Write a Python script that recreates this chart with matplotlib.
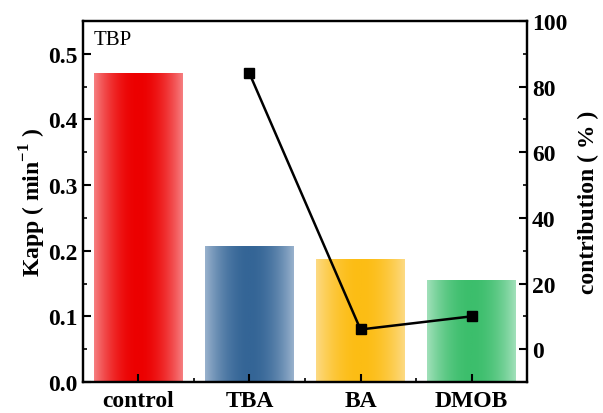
import matplotlib.pyplot as plt
import numpy as np
from matplotlib.colors import LinearSegmentedColormap
from matplotlib.ticker import MultipleLocator

# rate constants and contribution per scavenger
categories = ['control', 'TBA', 'BA', 'DMOB']
kapp = [0.47, 0.207, 0.188, 0.156]
contrib_cats = ['TBA', 'BA', 'DMOB']
contribution = [84, 6, 10]

# bar shading: (edge colour, centre colour)
shades = [('#f67f81', '#ec0000'),
          ('#99b2cd', '#346596'),
          ('#fdda84', '#fcbd14'),
          ('#a1e0ba', '#3cbe6c')]

plt.rcParams['font.family'] = ['Liberation Serif', 'DejaVu Serif']
plt.rcParams['mathtext.fontset'] = 'custom'
plt.rcParams['mathtext.rm'] = 'Liberation Serif:bold'
plt.rcParams['mathtext.bf'] = 'Liberation Serif:bold'

fig = plt.figure(figsize=(6.03, 4.14), dpi=100)
ax = fig.add_axes([0.1376, 0.0749, 0.7364, 0.872])

x = np.arange(len(categories))
bars = ax.bar(x, kapp, width=0.8, color='none', edgecolor='none')

# horizontal gradient fill: light at the edges, dark in the middle
grad = 1 - np.abs(np.linspace(-1, 1, 256)) ** 2
grad = grad.reshape(1, -1)
for b, (edge, centre) in zip(bars, shades):
    cmap = LinearSegmentedColormap.from_list('g', [edge, centre])
    x0, w, h = b.get_x(), b.get_width(), b.get_height()
    im = ax.imshow(grad, cmap=cmap, aspect='auto', extent=[x0, x0 + w, 0, h],
                   vmin=0, vmax=1, zorder=1)
    im.set_clip_path(b)

ax.set_xlim(-0.5, 3.5)
ax.set_ylim(0, 0.55)
ax.set_xticks(x)
ax.set_xticklabels(categories, fontsize=17, fontweight='bold')
ax.xaxis.set_minor_locator(MultipleLocator(0.5))
ax.yaxis.set_minor_locator(MultipleLocator(0.05))
ax.set_yticks(np.arange(0, 0.51, 0.1))
ax.set_yticklabels(['%.1f' % v for v in np.arange(0, 0.51, 0.1)],
                   fontsize=17, fontweight='bold')
ax.tick_params(which='major', direction='in', length=6, width=1.5)
ax.tick_params(which='minor', direction='in', length=3, width=1.2)
ax.tick_params(axis='x', pad=6)
ax.tick_params(axis='y', pad=4)
ax.set_ylabel('Kapp ( min$^{-1}$ )', fontsize=17, fontweight='bold', labelpad=0)
for s in ax.spines.values():
    s.set_linewidth(1.6)
ax.text(0.025, 0.975, 'TBP', transform=ax.transAxes, fontsize=15,
        ha='left', va='top')

ax2 = ax.twinx()
xc = [categories.index(c) for c in contrib_cats]
ax2.plot(xc, contribution, color='black', lw=1.8, marker='s', markersize=7)
ax2.set_ylim(-10, 100)
ax2.yaxis.set_minor_locator(MultipleLocator(10))
ax2.set_yticks(np.arange(0, 101, 20))
ax2.set_yticklabels([str(v) for v in range(0, 101, 20)], fontsize=17,
                    fontweight='bold')
ax2.tick_params(which='major', direction='in', length=6, width=1.5)
ax2.tick_params(which='minor', direction='in', length=3, width=1.2)
ax2.set_ylabel('contribution ( % )', fontsize=17, fontweight='bold', labelpad=8)
for s in ax2.spines.values():
    s.set_linewidth(1.6)

fig.savefig('out.png', dpi=100)
